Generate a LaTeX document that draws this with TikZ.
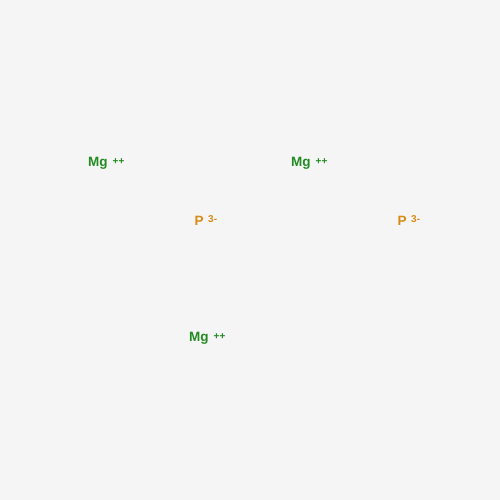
\documentclass[tikz,border=0pt]{standalone}
\usepackage{fontspec}
\setmainfont{Liberation Sans}
\definecolor{bg}{HTML}{F5F5F5}
\definecolor{mgc}{HTML}{228B22}
\definecolor{pc}{HTML}{D98A14}
\begin{document}
\begin{tikzpicture}[x=1pt,y=-1pt,
  atom/.style={inner sep=0pt,anchor=base west,font=\fontsize{13.5}{13.5}\selectfont\bfseries},
  chg/.style={inner sep=0pt,anchor=base west,font=\fontsize{10}{10}\selectfont\bfseries},
  mg/.style={atom,text=mgc},
  p/.style={atom,text=pc}]
\fill[bg] (0,0) rectangle (500,500);
\useasboundingbox (0,0) rectangle (500,500);
\node[mg] (mg1) at (88,166.5) {Mg};
\node[chg,text=mgc] (mg1c) at (112.5,164) {++};
\node[mg] (mg2) at (291,166.5) {Mg};
\node[chg,text=mgc] (mg2c) at (315.5,164) {++};
\node[mg] (mg3) at (189,341.5) {Mg};
\node[chg,text=mgc] (mg3c) at (213.5,339) {++};
\node[p] (p1) at (194.5,225) {P};
\node[chg,text=pc] (p1c) at (208,222) {3-};
\node[p] (p2) at (397.5,225) {P};
\node[chg,text=pc] (p2c) at (411,222) {3-};
\end{tikzpicture}
\end{document}
